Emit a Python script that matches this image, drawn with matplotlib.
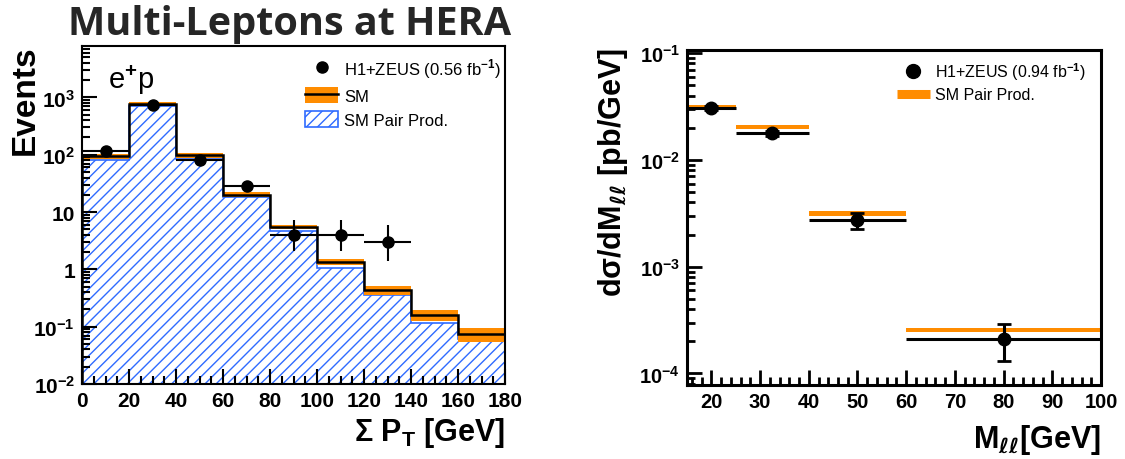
import numpy as np
import matplotlib
matplotlib.use("Agg")
import matplotlib.pyplot as plt
from matplotlib.ticker import LogLocator, MultipleLocator, FuncFormatter
from matplotlib.lines import Line2D
from matplotlib.patches import Patch

plt.rcParams['font.family'] = ['Liberation Sans', 'DejaVu Sans']
plt.rcParams['font.weight'] = 'bold'
plt.rcParams['mathtext.fontset'] = 'custom'
plt.rcParams['mathtext.rm'] = 'Liberation Sans'
plt.rcParams['mathtext.bf'] = 'Liberation Sans:bold'
plt.rcParams['mathtext.it'] = 'DejaVu Sans:italic'
plt.rcParams['hatch.linewidth'] = 1.0

ORANGE = '#ff8c00'
BLUE = '#2f6bff'

# left panel: sum PT, e+p (0.56 fb-1)
pt_edges = [0, 20, 40, 60, 80, 100, 120, 140, 160, 180]
pt_sm = [93, 766, 97, 20.2, 5.5, 1.35, 0.44, 0.16, 0.074]
pt_sm_err = [10, 50, 8, 2.0, 0.5, 0.15, 0.08, 0.035, 0.021]
pt_pair = [81, 698, 83, 18.5, 4.7, 1.05, 0.35, 0.115, 0.061]
pt_data_x = [10, 30, 50, 70, 90, 110, 130]
pt_data = [114, 736, 82, 29, 4, 4, 3]
pt_data_lo = [10.7, 27, 9, 5.4, 1.9, 1.9, 1.6]
pt_data_hi = [10.7, 27, 9, 5.4, 3.2, 3.2, 2.9]

# right panel: dsigma/dMll (0.94 fb-1)
m_edges = [15, 25, 40, 60, 100]
m_x = [20, 32.5, 50, 80]
m_data = [0.0306, 0.0177, 0.00271, 2.11e-4]
m_data_lo = [0.0015, 0.0010, 0.00047, 0.80e-4]
m_data_hi = [0.0015, 0.0010, 0.00046, 0.79e-4]
m_sm = [0.0315, 0.0204, 0.00315, 2.56e-4]
m_sm_err = [0.0015, 0.0010, 0.00015, 0.12e-4]


def left_fmt(v, pos):
    e = int(round(np.log10(v)))
    if e == 0:
        return '1'
    if e == 1:
        return '10'
    return r'$\mathbf{10^{%d}}$' % e


def right_fmt(v, pos):
    e = int(round(np.log10(v)))
    return r'$\mathbf{10^{%d}}$' % e


fig = plt.figure(figsize=(11.25, 4.6), dpi=100)
ax1 = fig.add_axes([82 / 1125, 1 - 385 / 460, 423 / 1125, 338 / 460])
ax2 = fig.add_axes([687 / 1125, 1 - 386 / 460, 414 / 1125, 335 / 460])

# ---- left ----
ax1.stairs(pt_pair, pt_edges, baseline=1e-3, fill=True, facecolor='white',
           edgecolor=BLUE, hatch='///', lw=1.2)
ax1.stairs(np.add(pt_sm, pt_sm_err), pt_edges,
           baseline=np.subtract(pt_sm, pt_sm_err), fill=True, color=ORANGE, lw=0)
ax1.stairs(pt_sm, pt_edges, color='black', lw=1.8)
ax1.errorbar(pt_data_x, pt_data, xerr=10, yerr=[pt_data_lo, pt_data_hi],
             fmt='o', color='black', ms=8, elinewidth=1.5, capsize=0)

ax1.set_yscale('log')
ax1.set_xlim(0, 180)
ax1.set_ylim(1e-2, 7870)
ax1.xaxis.set_major_locator(MultipleLocator(20))
ax1.xaxis.set_minor_locator(MultipleLocator(5))
ax1.yaxis.set_major_locator(LogLocator(10, numticks=30))
ax1.yaxis.set_minor_locator(LogLocator(10, subs=np.arange(2, 10), numticks=30))
ax1.yaxis.set_major_formatter(FuncFormatter(left_fmt))
ax1.tick_params(which='both', direction='in', top=False, right=False, width=1.5,
                labelsize=15)
ax1.tick_params(which='major', length=11, pad=5)
ax1.tick_params(which='minor', length=5.5)
for s in ax1.spines.values():
    s.set_linewidth(1.5)

ax1.text(0.061, 0.876, r'e$^{+}$p', transform=ax1.transAxes, fontsize=21,
         fontweight='normal', ha='left', va='baseline')

h_data = Line2D([], [], marker='o', color='black', ls='none', ms=8)
h_sm = (Patch(facecolor=ORANGE, edgecolor='none'), Line2D([], [], color='black', lw=1.8))
h_pair = Patch(facecolor='white', edgecolor=BLUE, hatch='///', lw=1.2)
ax1.legend([h_data, h_sm, h_pair],
           [r'H1+ZEUS (0.56 fb$^{-1}$)', 'SM', 'SM Pair Prod.'],
           loc='upper left', bbox_to_anchor=(0.527, 0.97), frameon=False,
           prop={'weight': 'normal', 'size': 12}, borderpad=0, borderaxespad=0,
           handlelength=2.0, handleheight=1.15, handletextpad=0.35,
           labelspacing=0.42)

fig.text(25 / 1125, 1 - 45 / 460, 'Events', rotation=90, ha='center', va='top',
         fontsize=24)
fig.text(505 / 1125, 1 - 441 / 460, r'Σ P$_{\mathbf{T}}$ [GeV]', ha='right',
         va='baseline', fontsize=22)
fig.text(290 / 1125, 1 - 35 / 460, 'Multi-Leptons at HERA', ha='center',
         va='baseline', fontsize=28.5, family=['Open Sans', 'DejaVu Sans'],
         fontweight='bold', color='#262626')

# ---- right ----
widths = np.diff(m_edges)
ax2.bar(m_edges[:-1], 2 * np.array(m_sm_err), bottom=np.subtract(m_sm, m_sm_err),
        width=widths, align='edge', color=ORANGE, lw=0)
xlo = np.subtract(m_x, m_edges[:-1])
xhi = np.subtract(m_edges[1:], m_x)
# horizontal bars without caps, vertical bars with caps
ax2.errorbar(m_x, m_data, xerr=[xlo, xhi], fmt='none', ecolor='black',
             elinewidth=2.2, capsize=0)
ax2.errorbar(m_x, m_data, yerr=[m_data_lo, m_data_hi], fmt='o', color='black',
             ms=9, elinewidth=2.2, capsize=5, capthick=2)

ax2.set_yscale('log')
ax2.set_xlim(15, 100)
ax2.set_ylim(7.8e-5, 0.107)
ax2.xaxis.set_major_locator(MultipleLocator(10))
ax2.xaxis.set_minor_locator(MultipleLocator(2))
ax2.yaxis.set_major_locator(LogLocator(10, numticks=30))
ax2.yaxis.set_minor_locator(LogLocator(10, subs=np.arange(2, 10), numticks=30))
ax2.yaxis.set_major_formatter(FuncFormatter(right_fmt))
ax2.tick_params(which='both', direction='in', top=False, right=False, width=2,
                labelsize=14.5)
ax2.tick_params(which='major', length=11, pad=5)
ax2.tick_params(which='minor', length=5.5)
for s in ax2.spines.values():
    s.set_linewidth(2.2)

h_data2 = Line2D([], [], marker='o', color='black', ls='none', ms=10)
h_pair2 = Line2D([], [], color=ORANGE, lw=6.5, solid_capstyle='butt')
ax2.legend([h_data2, h_pair2], [r'H1+ZEUS (0.94 fb$^{-1}$)', 'SM Pair Prod.'],
           loc='upper left', bbox_to_anchor=(0.507, 0.97), frameon=False,
           prop={'weight': 'normal', 'size': 11.5}, borderpad=0, borderaxespad=0,
           handlelength=2.06, handletextpad=0.35, labelspacing=0.35)

fig.text(613 / 1125, 1 - 48 / 460, r'dσ/dM$_{\ell\ell}$ [pb/GeV]', rotation=90,
         ha='center', va='top', fontsize=22)
fig.text(1101 / 1125, 1 - 448 / 460, r'M$_{\ell\ell}$[GeV]', ha='right',
         va='baseline', fontsize=22)

fig.savefig('out.png', dpi=100)
